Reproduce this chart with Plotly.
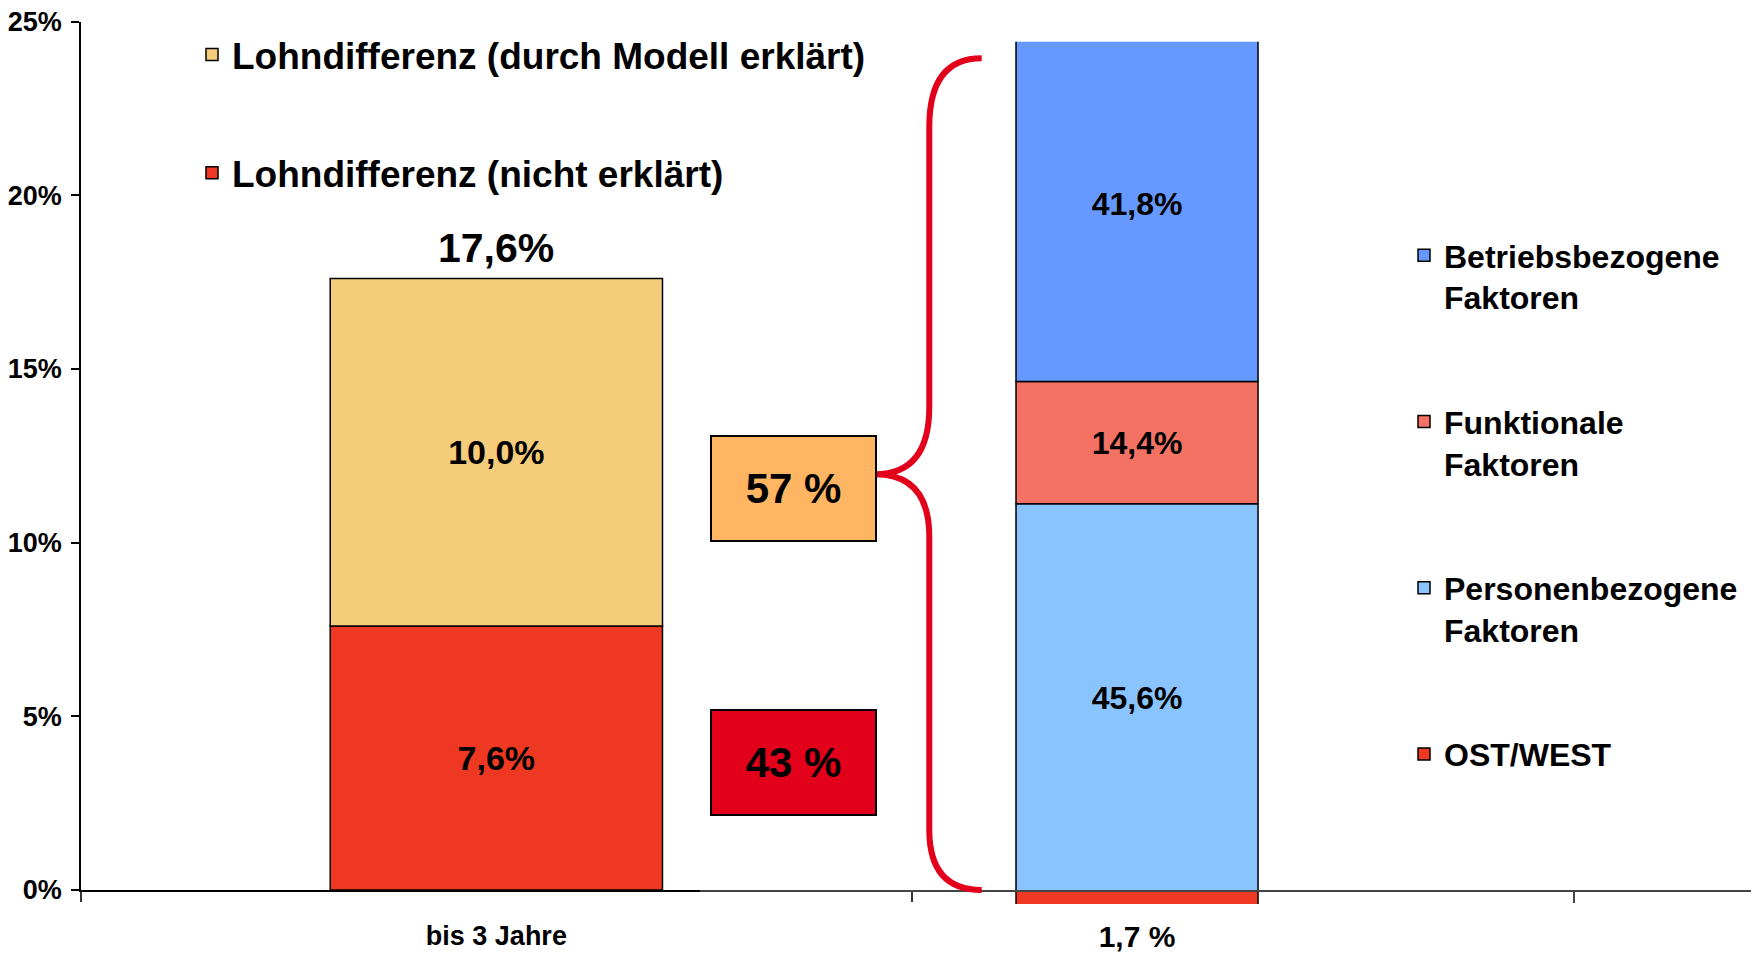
import plotly.graph_objects as go

W, H = 1751, 953

# ---------------- data ----------------
left_categories = ["bis 3 Jahre"]
unexplained_values = [7.6]      # Lohndifferenz (nicht erklärt)
explained_values = [10.0]       # Lohndifferenz (durch Modell erklärt)
left_series_names = ["Lohndifferenz (nicht erklärt)", "Lohndifferenz (durch Modell erklärt)"]
share_labels = ["57 %", "43 %"]

right_categories = ["1,7 %"]
right_series_names = ["OST/WEST", "Personenbezogene<br>Faktoren",
                      "Funktionale<br>Faktoren", "Betriebsbezogene<br>Faktoren"]
ostwest_values = [-1.7]
personen_values = [45.6]
funktional_values = [14.4]
betrieb_values = [41.8]

y_tick_values = [0, 5, 10, 15, 20, 25]
y_tick_labels = ["0%", "5%", "10%", "15%", "20%", "25%"]

# ---------------- style ----------------
SANS = "Liberation Sans, Arial, DejaVu Sans, sans-serif"
C_YELLOW = "#F5CC7A"
C_RED = "#EE3822"
C_BOX_ORANGE = "#FFB562"
C_BOX_RED = "#E2001A"
C_BLUE = "#6699FF"
C_SALMON = "#F37264"
C_LIGHTBLUE = "#8AC4FF"
C_BRACE = "#E2001A"


def px(x):
    return x / W


def py(y):
    return 1 - y / H


fig = go.Figure()

left_x = list(range(len(left_categories)))
right_x = list(range(len(right_categories)))

bar_line = dict(color="black", width=1.5)

fig.add_trace(go.Bar(
    x=left_x, y=unexplained_values, name=left_series_names[0],
    marker=dict(color=C_RED, line=bar_line), width=0.4,
    text=unexplained_values, texttemplate="%{y:.1f}%", textposition="inside",
    insidetextanchor="middle", constraintext="none", textangle=0,
    textfont=dict(family=SANS, size=34, color="black", weight="bold"),
    xaxis="x", yaxis="y", legend="legend", legendgroup="l2", legendrank=2,
))
fig.add_trace(go.Bar(
    x=left_x, y=explained_values, name=left_series_names[1],
    marker=dict(color=C_YELLOW, line=bar_line), width=0.4,
    text=explained_values, texttemplate="%{y:.1f}%", textposition="inside",
    insidetextanchor="middle", constraintext="none", textangle=0,
    textfont=dict(family=SANS, size=34, color="black", weight="bold"),
    xaxis="x", yaxis="y", legend="legend", legendgroup="l1", legendrank=1,
))

right_specs = [
    (ostwest_values, right_series_names[0], C_RED, 4, False),
    (personen_values, right_series_names[1], C_LIGHTBLUE, 3, True),
    (funktional_values, right_series_names[2], C_SALMON, 2, True),
    (betrieb_values, right_series_names[3], C_BLUE, 1, True),
]
for vals, name, col, rank, show_text in right_specs:
    fig.add_trace(go.Bar(
        x=right_x, y=vals, name=name,
        marker=dict(color=col, line=bar_line), width=0.2767,
        text=vals if show_text else None,
        texttemplate="%{y:.1f}%" if show_text else None,
        textposition="inside" if show_text else "none",
        insidetextanchor="middle", constraintext="none", textangle=0,
        textfont=dict(family=SANS, size=32, color="black", weight="bold"),
        xaxis="x2", yaxis="y2", legend="legend2", legendgroup="r%d" % rank,
        legendrank=rank,
    ))

total_left = unexplained_values[0] + explained_values[0]
total_text = ("%.1f%%" % total_left).replace(".", ",")

annotations = [
    dict(x=left_x[0], y=total_left, xref="x", yref="y", text=total_text,
         showarrow=False, yanchor="bottom", yshift=6,
         font=dict(family=SANS, size=41, color="black", weight="bold")),
    dict(x=0.3575, y=11.55, xref="x", yref="y", text=share_labels[0],
         showarrow=False, width=163, height=103, bgcolor=C_BOX_ORANGE,
         bordercolor="black", borderwidth=2, borderpad=0,
         font=dict(family=SANS, size=42, color="black", weight="bold")),
    dict(x=0.3575, y=3.68, xref="x", yref="y", text=share_labels[1],
         showarrow=False, width=163, height=103, bgcolor=C_BOX_RED,
         bordercolor="black", borderwidth=2, borderpad=0,
         font=dict(family=SANS, size=42, color="black", weight="bold")),
]

brace = (
    f"M {px(981.7)},{py(58.3)} "
    f"Q {px(929.3)},{py(58.3)} {px(929.3)},{py(126.7)} "
    f"L {px(929.3)},{py(406.7)} "
    f"Q {px(929.3)},{py(474.3)} {px(875)},{py(474.3)} "
    f"Q {px(929.3)},{py(474.3)} {px(929.3)},{py(536.7)} "
    f"L {px(929.3)},{py(830)} "
    f"Q {px(929.3)},{py(890)} {px(981.7)},{py(890)}"
)

fig.update_layout(
    width=W, height=H,
    margin=dict(l=0, r=0, t=0, b=0),
    paper_bgcolor="white", plot_bgcolor="rgba(0,0,0,0)",
    barmode="relative", separators=",.",
    showlegend=True,
    font=dict(family=SANS, color="black"),
    annotations=annotations,
    shapes=[dict(type="path", path=brace, xref="paper", yref="paper",
                 line=dict(color=C_BRACE, width=6), layer="above")],
    xaxis=dict(
        domain=[px(81), px(911.7)], range=[-0.5, 0.5], anchor="y",
        showline=True, linecolor="black", linewidth=1.5,
        tickmode="array", tickvals=left_x, ticktext=left_categories, ticks="",
        minor=dict(tickmode="array", tickvals=[-0.5, 0.5], ticks="outside",
                   ticklen=10, tickwidth=1.5, tickcolor="#333", showgrid=False),
        ticklabelstandoff=21,
        tickfont=dict(family=SANS, size=27, color="black", weight="bold"),
        showgrid=False, zeroline=False, automargin=False, fixedrange=True,
    ),
    yaxis=dict(
        domain=[py(890), py(21.5)], range=[0, 25], anchor="x",
        showline=True, linecolor="black", linewidth=1.5,
        tickmode="array", tickvals=y_tick_values, ticktext=y_tick_labels,
        ticks="outside", ticklen=8, tickwidth=1.5, tickcolor="black",
        ticklabelstandoff=4,
        tickfont=dict(family=SANS, size=27, color="black", weight="bold"),
        showgrid=False, zeroline=False, automargin=False, fixedrange=True,
    ),
    xaxis2=dict(
        domain=[px(699.7), 1.0], range=[-0.5, 0.702], anchor="free",
        position=py(891.3),
        showline=True, linecolor="#444", linewidth=1.5,
        tickmode="array", tickvals=right_x, ticktext=right_categories, ticks="",
        minor=dict(tickmode="array", tickvals=[0.5], ticks="outside",
                   ticklen=11, tickwidth=2, tickcolor="#444", showgrid=False),
        ticklabelstandoff=19,
        tickfont=dict(family=SANS, size=30, color="black", weight="bold"),
        showgrid=False, zeroline=False, automargin=False, fixedrange=True,
    ),
    yaxis2=dict(
        domain=[py(904), py(41.7)], range=[-1.5, 100], anchor="x2",
        visible=False, showgrid=False, zeroline=False, fixedrange=True,
    ),
    legend=dict(
        x=px(192), y=py(24), xanchor="left", yanchor="top",
        bgcolor="rgba(0,0,0,0)", traceorder="grouped", tracegroupgap=67,
        font=dict(family=SANS, size=37, color="black", weight="bold"),
        valign="middle", itemclick=False, itemdoubleclick=False,
    ),
    legend2=dict(
        x=px(1404), y=py(228), xanchor="left", yanchor="top",
        bgcolor="rgba(0,0,0,0)", traceorder="grouped", tracegroupgap=80,
        font=dict(family=SANS, size=32, color="black", weight="bold"),
        valign="top", itemclick=False, itemdoubleclick=False,
    ),
)

fig.write_html(
    "out.html",
    config={"displayModeBar": False},
    post_script="document.body.style.margin='0';document.body.style.padding='0';",
)
